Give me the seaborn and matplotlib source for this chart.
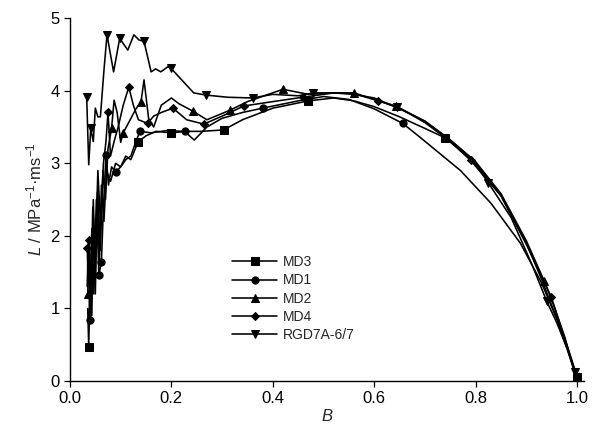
import matplotlib
matplotlib.use("Agg")
import matplotlib.pyplot as plt
import seaborn as sns
import pandas as pd

sns.set_style("ticks")
plt.rcParams['font.family'] = ['Liberation Sans', 'DejaVu Sans']
plt.rcParams['mathtext.fontset'] = 'custom'
plt.rcParams['mathtext.rm'] = 'Liberation Sans'
plt.rcParams['mathtext.it'] = 'Liberation Sans:italic'

md3_B = [0.035, 0.037, 0.040, 0.043, 0.046, 0.050, 0.054, 0.058, 0.062, 0.067, 0.072, 0.080,
         0.090, 0.100, 0.110, 0.120, 0.134, 0.150, 0.170, 0.199, 0.230, 0.260, 0.303, 0.340,
         0.400, 0.470, 0.520, 0.560, 0.600, 0.650, 0.700, 0.740, 0.800, 0.850, 0.900, 0.930,
         0.955, 0.975, 0.990, 1.0]
md3_L = [1.00, 0.47, 1.50, 0.90, 2.20, 1.20, 2.60, 1.60, 2.70, 2.20, 2.90, 2.75,
         3.00, 2.95, 3.10, 3.05, 3.29, 3.38, 3.44, 3.42, 3.44, 3.44, 3.46, 3.60,
         3.76, 3.86, 3.90, 3.86, 3.78, 3.64, 3.48, 3.35, 3.00, 2.55, 1.90, 1.40,
         0.95, 0.60, 0.25, 0.05]
md3_marks = [1, 16, 19, 22, 25, 31, 39]

md1_B = [0.034, 0.036, 0.039, 0.043, 0.047, 0.052, 0.057, 0.062, 0.066, 0.071, 0.076, 0.082,
         0.090, 0.100, 0.110, 0.120, 0.130, 0.138, 0.160, 0.190, 0.226, 0.245, 0.270, 0.300,
         0.340, 0.380, 0.450, 0.500, 0.550, 0.600, 0.656, 0.690, 0.770, 0.830, 0.888, 0.930,
         0.960, 0.980, 1.0]
md1_L = [1.30, 1.90, 0.84, 2.10, 1.20, 2.50, 1.46, 1.64, 2.40, 3.11, 2.70, 2.95,
         2.88, 2.95, 3.05, 3.10, 3.30, 3.44, 3.42, 3.45, 3.44, 3.32, 3.50, 3.62,
         3.70, 3.76, 3.86, 3.92, 3.88, 3.75, 3.55, 3.36, 2.90, 2.45, 1.90, 1.35,
         0.85, 0.45, 0.05]
md1_marks = [2, 6, 7, 9, 12, 17, 20, 25, 30, 38]

md2_B = [0.035, 0.038, 0.042, 0.046, 0.050, 0.055, 0.060, 0.065, 0.070, 0.075, 0.082, 0.087,
         0.093, 0.100, 0.105, 0.115, 0.130, 0.140, 0.146, 0.155, 0.165, 0.180, 0.200, 0.215,
         0.242, 0.270, 0.315, 0.350, 0.420, 0.470, 0.520, 0.560, 0.600, 0.642, 0.700, 0.750,
         0.800, 0.850, 0.900, 0.935, 0.955, 0.975, 0.990, 1.0]
md2_L = [1.20, 1.90, 0.90, 2.50, 1.50, 2.60, 1.80, 2.90, 2.50, 3.20, 3.48, 3.87,
         3.70, 3.29, 3.42, 3.55, 3.75, 3.84, 4.15, 3.62, 3.50, 3.80, 3.90, 3.82,
         3.72, 3.60, 3.73, 3.85, 4.02, 3.95, 3.97, 3.97, 3.88, 3.79, 3.58, 3.32,
         3.02, 2.58, 1.93, 1.38, 1.02, 0.62, 0.25, 0.05]
md2_marks = [0, 10, 14, 17, 24, 26, 28, 31, 33, 39, 43]

md4_B = [0.034, 0.036, 0.038, 0.041, 0.045, 0.050, 0.055, 0.060, 0.066, 0.071, 0.075, 0.080,
         0.087, 0.095, 0.105, 0.116, 0.125, 0.135, 0.153, 0.165, 0.180, 0.203, 0.230, 0.264,
         0.300, 0.343, 0.400, 0.459, 0.520, 0.560, 0.608, 0.650, 0.700, 0.750, 0.790, 0.850,
         0.900, 0.949, 0.970, 0.990, 1.0]
md4_L = [1.83, 1.36, 1.94, 1.18, 2.40, 1.70, 2.90, 2.20, 3.00, 3.30, 3.70, 3.10,
         3.30, 3.50, 3.80, 4.05, 3.80, 3.60, 3.55, 3.65, 3.70, 3.76, 3.60, 3.54,
         3.65, 3.79, 3.85, 3.91, 3.97, 3.96, 3.86, 3.76, 3.56, 3.30, 3.04, 2.55,
         1.88, 1.16, 0.70, 0.28, 0.05]
md4_marks = [0, 2, 10, 15, 18, 21, 23, 25, 27, 30, 34, 37, 40]

rgd_B = [0.033, 0.037, 0.041, 0.046, 0.050, 0.055, 0.060, 0.067, 0.073, 0.086, 0.098, 0.114,
         0.126, 0.136, 0.146, 0.160, 0.169, 0.179, 0.193, 0.199, 0.244, 0.268, 0.311, 0.360,
         0.400, 0.450, 0.480, 0.520, 0.560, 0.600, 0.644, 0.700, 0.750, 0.790, 0.825, 0.870,
         0.910, 0.940, 0.960, 0.980, 0.995]
rgd_L = [3.91, 2.98, 3.48, 3.30, 3.76, 3.64, 3.64, 4.28, 4.77, 4.26, 4.72, 4.56,
         4.77, 4.70, 4.68, 4.26, 4.30, 4.26, 4.33, 4.31, 3.97, 3.94, 3.91, 3.90,
         3.95, 3.93, 3.97, 3.97, 3.95, 3.90, 3.77, 3.58, 3.32, 3.08, 2.73, 2.25,
         1.62, 1.10, 0.80, 0.45, 0.12]
rgd_marks = [0, 2, 8, 10, 14, 19, 21, 23, 26, 30, 34, 37, 40]

series = [("MD3", md3_B, md3_L, md3_marks, "s"),
          ("MD1", md1_B, md1_L, md1_marks, "o"),
          ("MD2", md2_B, md2_L, md2_marks, "^"),
          ("MD4", md4_B, md4_L, md4_marks, "D"),
          ("RGD7A-6/7", rgd_B, rgd_L, rgd_marks, "v")]

fig = plt.figure(figsize=(5.98, 4.32), dpi=100)
ax = fig.add_axes([0.117, 0.118, 0.860, 0.840])

for name, B, L, marks, mk in series:
    df = pd.DataFrame({"B": B, "L": L})
    ms = 4.2 if mk == "D" else 5.2
    sns.lineplot(data=df, x="B", y="L", ax=ax, sort=False, color="black", lw=1.15,
                 marker=mk, markersize=ms, markevery=marks, markeredgecolor="black",
                 markerfacecolor="black", label=name)

ax.set_xlim(0, 1.014)
ax.set_ylim(0, 5)
ax.set_xticks([0.0, 0.2, 0.4, 0.6, 0.8, 1.0])
ax.set_xticklabels(["0.0", "0.2", "0.4", "0.6", "0.8", "1.0"])
ax.set_yticks([0, 1, 2, 3, 4, 5])
ax.tick_params(direction="out", length=4, width=0.9, labelsize=12, colors="black")
for s in ["left", "bottom"]:
    ax.spines[s].set_linewidth(1.0)
    ax.spines[s].set_color("black")
sns.despine(ax=ax)
ax.set_xlabel("$B$", fontsize=12, labelpad=1)
ax.set_ylabel("$L$ / MPa$^{-1}$·ms$^{-1}$", fontsize=12, labelpad=4)

leg = ax.legend(loc="upper left", bbox_to_anchor=(0.305, 0.362), frameon=False,
                fontsize=10, handlelength=3.2, handletextpad=0.4, labelspacing=0.3,
                borderaxespad=0)

fig.savefig("out.png", dpi=100)
